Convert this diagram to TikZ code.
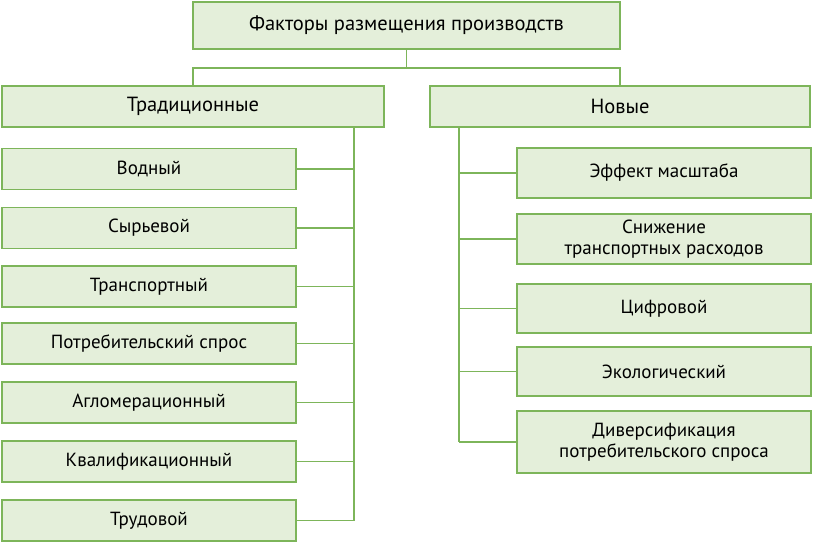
\documentclass[tikz,border=0pt]{standalone}
\usepackage{fontspec}
\setmainfont{PT Sans}
\usepackage{xcolor}
\definecolor{boxline}{HTML}{7DB55A}
\definecolor{boxfill}{HTML}{E4EFDA}
\tikzset{
    factor/.style={draw=boxline, fill=boxfill, line width=1.2pt, align=center,
        inner sep=0pt, font=\fontsize{19}{21}\selectfont},
    head/.style={factor, font=\fontsize{20.5}{22}\selectfont},
    link/.style={draw=boxline, line width=1.2pt}
}

\begin{document}
\begin{tikzpicture}[x=1pt, y=-1pt]
    \useasboundingbox (0,0) rectangle (814,543);

    % Top level
    \node[head, minimum width=427, minimum height=47] (root) at (406.5,25.5) {Факторы размещения производств};
    \node[head, minimum width=382, minimum height=41] (trad) at (193,106.5) {Традиционные};
    \node[head, minimum width=380, minimum height=41] (new) at (620,106.5) {Новые};
    \coordinate (hub) at (406.5,68);
    \draw[link] (root.south) -- (hub);
    \draw[link] (trad.north) |- (hub) -| (new.north);

    % Traditional factors
    \coordinate (tbus) at (354,0);
    \foreach \name/\y/\txt in {vodn/169/Водный, syr/228/Сырьевой, trans/286.5/Транспортный,
        potr/343.5/Потребительский спрос, aglo/402.5/Агломерационный,
        kval/461.5/Квалификационный, trud/520.5/Трудовой} {
        \node[factor, minimum width=294, minimum height=41] (\name) at (149,\y) {\txt};
        \draw[link] (\name.east) -- (\name.east -| tbus);
    }
    \draw[link] (trad.south -| tbus) -- (trud.east -| tbus);

    % New factors
    \coordinate (nbus) at (459,0);
    \foreach \name/\y/\h/\txt in {scale/173/50/Эффект масштаба,
        cost/239/50/{Снижение\\транспортных расходов}, digit/308.5/49/Цифровой,
        eco/371.5/49/Экологический, divers/442/62/{Диверсификация\\потребительского спроса}} {
        \node[factor, minimum width=294, minimum height=\h] (\name) at (664,\y) {\txt};
        \draw[link] (\name.west) -- (\name.west -| nbus);
    }
    \draw[link] (new.south -| nbus) -- (divers.west -| nbus);
\end{tikzpicture}
\end{document}
